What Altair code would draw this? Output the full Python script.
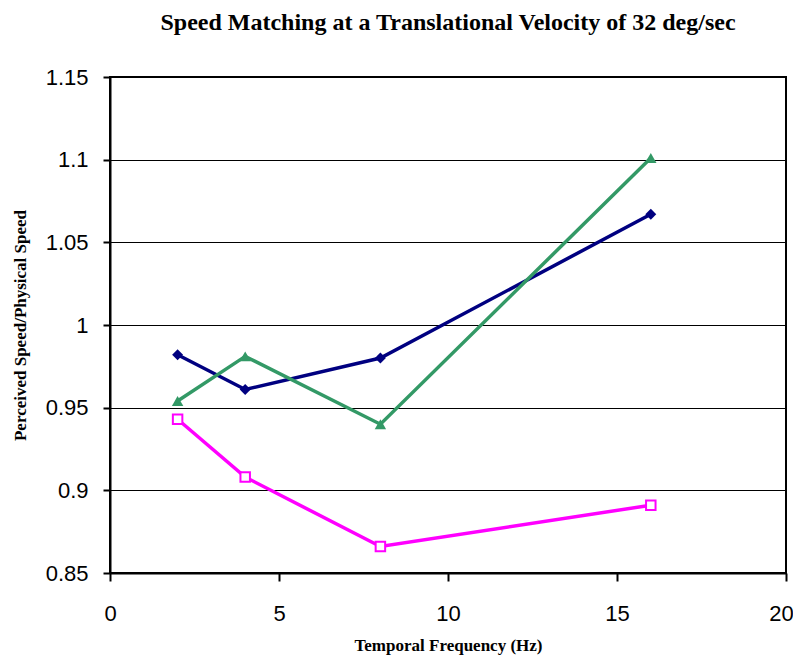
import altair as alt
import pandas as pd

freq = [2, 4, 8, 16]
navy_vals = [0.982, 0.961, 0.980, 1.067]
green_vals = [0.954, 0.981, 0.940, 1.101]
magenta_vals = [0.943, 0.908, 0.866, 0.891]
x_ticks = [0, 5, 10, 15, 20]
y_ticks = [0.85, 0.9, 0.95, 1.0, 1.05, 1.1, 1.15]

title_text = "Speed Matching at a Translational Velocity of 32 deg/sec"
x_title = "Temporal Frequency (Hz)"
y_title = "Perceived Speed/Physical Speed"

xenc = alt.X("f:Q", scale=alt.Scale(domain=[0, 20], nice=False, zero=False),
             axis=alt.Axis(values=x_ticks, title=x_title, grid=False, format="~g",
                           labelPadding=22, titlePadding=13, tickSize=8, labelFlush=False,
                           labelOffset=alt.condition("datum.value == 20", alt.value(-5), alt.value(0))))
yenc = alt.Y("v:Q", scale=alt.Scale(domain=[0.85, 1.15], nice=False, zero=False),
             axis=alt.Axis(values=y_ticks, title=y_title, grid=True, format="~g",
                           labelPadding=15, titlePadding=16, tickSize=7, labelFlush=False))


def series(vals, color, shape, filled, size, fill):
    df = pd.DataFrame({"f": freq, "v": vals})
    base = alt.Chart(df).encode(x=xenc, y=yenc)
    line = base.mark_line(color=color, strokeWidth=3.5)
    if filled:
        pts = base.mark_point(shape=shape, filled=True, color=color, size=size, opacity=1)
    else:
        pts = base.mark_point(shape=shape, filled=False, stroke=color, fill=fill,
                              fillOpacity=1, strokeWidth=2, size=size, opacity=1)
    return [line, pts]


layers = []
layers += series(navy_vals, "#000080", "diamond", True, 120, None)
layers += series(magenta_vals, "#FF00FF", "square", False, 90, "#FFFFFF")
layers += series(green_vals, "#339966", "triangle-up", True, 130, None)

chart = alt.layer(*layers).properties(
    width=676,
    height=496,
    title=alt.TitleParams(title_text, font="Liberation Serif", fontSize=24,
                          fontWeight="bold", anchor="middle", offset=31, color="black"),
    autosize=alt.AutoSizeParams(type="none"),
    padding={"left": 102, "top": 69, "right": 7, "bottom": 82},
).configure_view(
    stroke="black", strokeWidth=2
).configure_axis(
    domainColor="black", domainWidth=2, tickColor="black", tickWidth=2,
    gridColor="black", gridWidth=1, gridOpacity=1,
    labelFont="Liberation Sans", labelFontSize=22, labelColor="black",
    titleFont="Liberation Serif", titleFontSize=17, titleFontWeight="bold", titleColor="black",
)

chart.save("out.html", embed_options={"renderer": "svg", "actions": False})
